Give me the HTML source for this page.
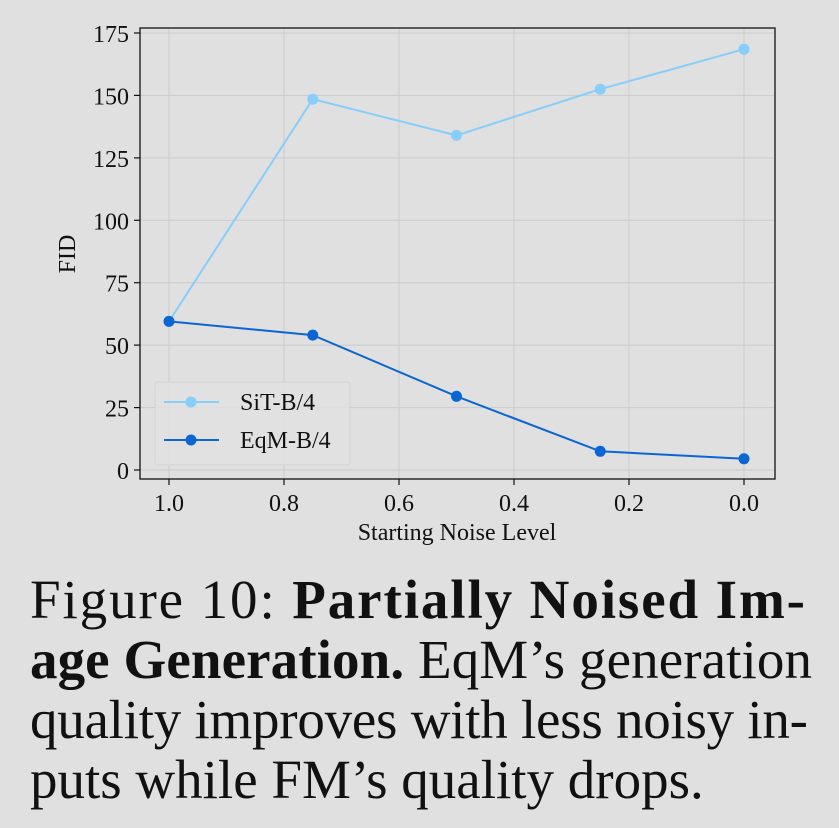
<!DOCTYPE html>
<html><head><style>
html,body{margin:0;padding:0;background:#e0e0e0;}
svg{display:block;font-family:'Liberation Serif','Times New Roman',Times,serif;}
svg text{font-family:'Liberation Serif','Times New Roman',Times,serif;}
</style></head><body>
<svg width="839" height="828" viewBox="0 0 839 828" xmlns="http://www.w3.org/2000/svg" font-family="Liberation Serif, Times New Roman, serif">
<rect width="839" height="828" fill="#e0e0e0"/>
<g stroke="#cbcbcb" stroke-width="1">
<line x1="169" y1="28" x2="169" y2="479"/><line x1="284" y1="28" x2="284" y2="479"/>
<line x1="399" y1="28" x2="399" y2="479"/><line x1="514" y1="28" x2="514" y2="479"/>
<line x1="629" y1="28" x2="629" y2="479"/><line x1="744" y1="28" x2="744" y2="479"/>
<line x1="140" y1="470" x2="775" y2="470"/><line x1="140" y1="407.6" x2="775" y2="407.6"/>
<line x1="140" y1="345.1" x2="775" y2="345.1"/><line x1="140" y1="282.7" x2="775" y2="282.7"/>
<line x1="140" y1="220.3" x2="775" y2="220.3"/><line x1="140" y1="157.9" x2="775" y2="157.9"/>
<line x1="140" y1="95.4" x2="775" y2="95.4"/><line x1="140" y1="33" x2="775" y2="33"/>
</g>
<rect x="140" y="28" width="635" height="451" fill="none" stroke="#111" stroke-width="1.3"/>
<g stroke="#111" stroke-width="1.2">
<line x1="134" y1="470" x2="140" y2="470"/><line x1="134" y1="407.6" x2="140" y2="407.6"/>
<line x1="134" y1="345.1" x2="140" y2="345.1"/><line x1="134" y1="282.7" x2="140" y2="282.7"/>
<line x1="134" y1="220.3" x2="140" y2="220.3"/><line x1="134" y1="157.9" x2="140" y2="157.9"/>
<line x1="134" y1="95.4" x2="140" y2="95.4"/><line x1="134" y1="33" x2="140" y2="33"/>
<line x1="169" y1="479" x2="169" y2="485"/><line x1="284" y1="479" x2="284" y2="485"/>
<line x1="399" y1="479" x2="399" y2="485"/><line x1="514" y1="479" x2="514" y2="485"/>
<line x1="629" y1="479" x2="629" y2="485"/><line x1="744" y1="479" x2="744" y2="485"/>
</g>
<g font-size="24" fill="#111" text-anchor="end">
<text x="129" y="479">0</text><text x="129" y="416.6">25</text><text x="129" y="354.1">50</text>
<text x="129" y="291.7">75</text><text x="129" y="229.3">100</text><text x="129" y="166.9">125</text>
<text x="129" y="104.4">150</text><text x="129" y="42">175</text>
</g>
<g font-size="24" fill="#111" text-anchor="middle">
<text x="169" y="511">1.0</text><text x="284" y="511">0.8</text><text x="399" y="511">0.6</text>
<text x="514" y="511">0.4</text><text x="629" y="511">0.2</text><text x="744" y="511">0.0</text>
<text x="457" y="540">Starting Noise Level</text>
<text transform="translate(75,254) rotate(-90)">FID</text>
</g>
<polyline fill="none" stroke="#87cefa" stroke-width="2" points="169,321.4 312.75,99.2 456.5,135.4 600.25,89.2 744,49.2"/>
<g fill="#87cefa"><circle cx="169" cy="321.4" r="5.5"/><circle cx="312.75" cy="99.2" r="5.5"/><circle cx="456.5" cy="135.4" r="5.5"/><circle cx="600.25" cy="89.2" r="5.5"/><circle cx="744" cy="49.2" r="5.5"/></g>
<polyline fill="none" stroke="#0a66d2" stroke-width="2" points="169,321.4 312.75,335.1 456.5,396.3 600.25,451.3 744,458.8"/>
<g fill="#0a66d2"><circle cx="169" cy="321.4" r="5.5"/><circle cx="312.75" cy="335.1" r="5.5"/><circle cx="456.5" cy="396.3" r="5.5"/><circle cx="600.25" cy="451.3" r="5.5"/><circle cx="744" cy="458.8" r="5.5"/></g>
<rect x="155" y="382" width="195" height="83" rx="3" fill="#e0e0e0" fill-opacity="0.85" stroke="#d4d4d4"/>
<line x1="164" y1="402" x2="219" y2="402" stroke="#87cefa" stroke-width="2"/><circle cx="191" cy="402" r="5.5" fill="#87cefa"/>
<line x1="164" y1="440" x2="219" y2="440" stroke="#0a66d2" stroke-width="2"/><circle cx="191" cy="440" r="5.5" fill="#0a66d2"/>
<text x="240" y="410" font-size="24" fill="#111">SiT-B/4</text>
<text x="240" y="448" font-size="24" fill="#111">EqM-B/4</text>
<g font-size="55" fill="#111">
<text x="30" y="618" textLength="775" lengthAdjust="spacing">Figure 10:  <tspan font-weight="bold">Partially Noised Im-</tspan></text>
<text x="30" y="678" textLength="782" lengthAdjust="spacing"><tspan font-weight="bold">age Generation.</tspan> EqM’s generation</text>
<text x="30" y="738" textLength="778" lengthAdjust="spacing">quality improves with less noisy in-</text>
<text x="30" y="798">puts while FM’s quality drops.</text>
</g>
</svg>
</body></html>
